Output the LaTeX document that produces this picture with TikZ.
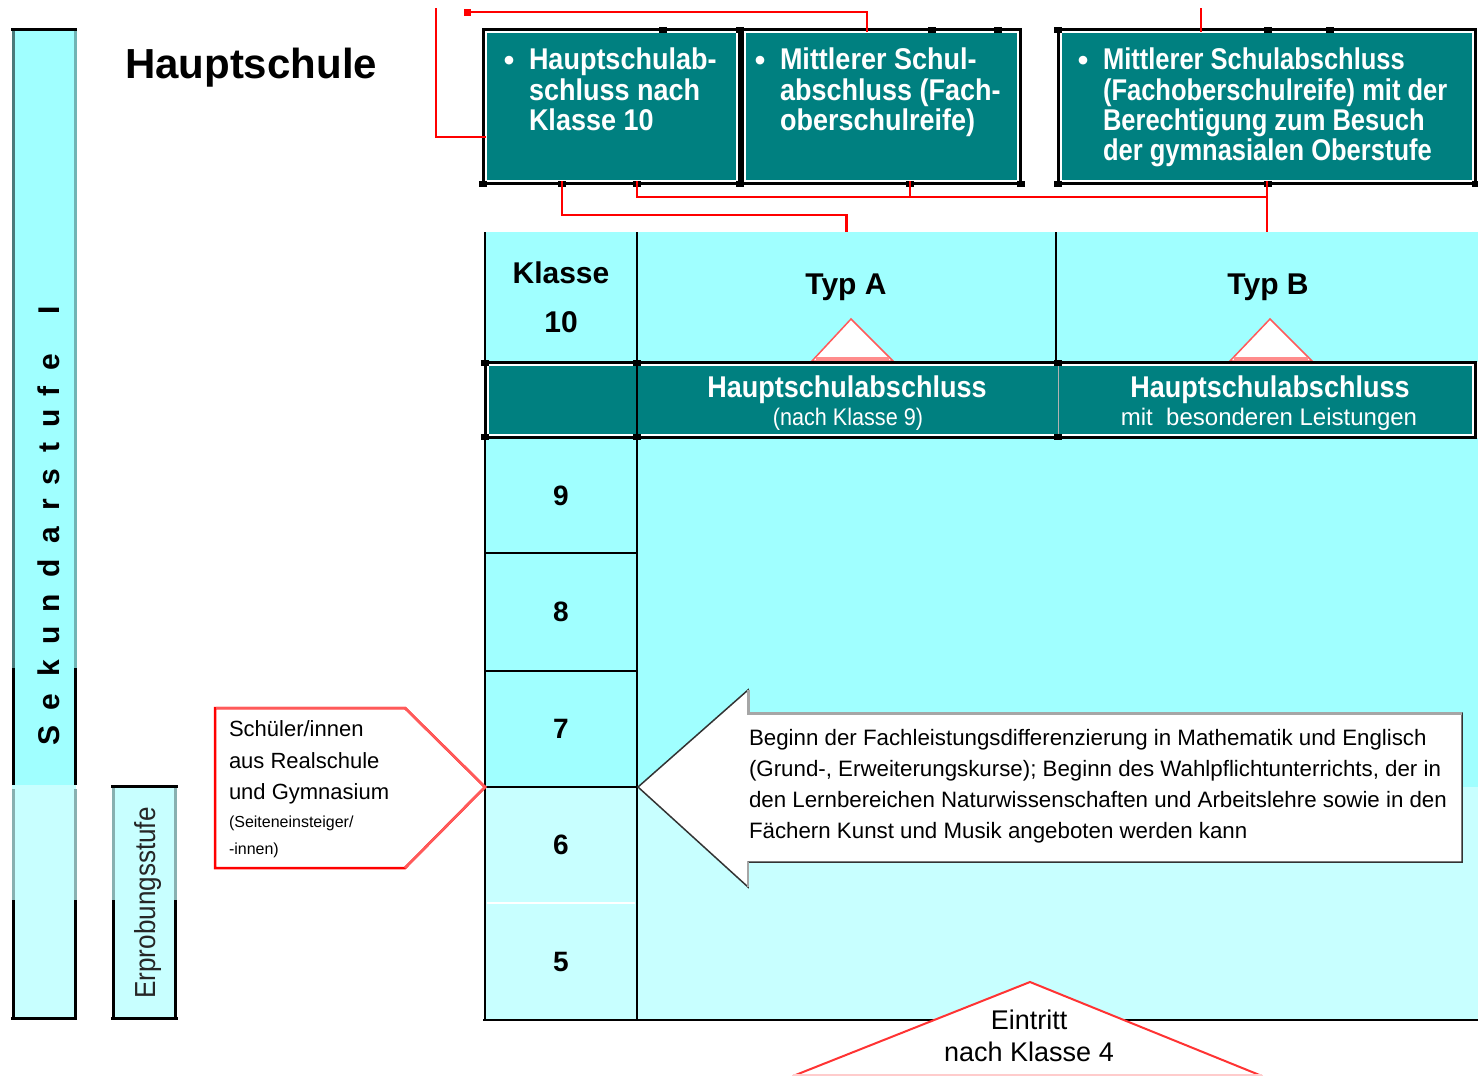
\documentclass[tikz,border=0pt]{standalone}
\usepackage{fontspec}
\setmainfont{Liberation Sans}
\newfontfamily\cnd{Liberation Sans}[FakeStretch=0.9]
\newfontfamily\cndn{Liberation Sans}[FakeStretch=0.85]
\definecolor{cyanA}{HTML}{A0FFFF}
\definecolor{cyanB}{HTML}{C8FFFF}
\definecolor{tealC}{HTML}{008080}
\definecolor{redC}{HTML}{FF0000}
\definecolor{pinkR}{HTML}{FF5A5A}
\definecolor{edgeD}{HTML}{4A7A7A}
\definecolor{edgeL}{HTML}{70B4B4}
\definecolor{edgeG}{HTML}{88B0B0}
\begin{document}
\begin{tikzpicture}[x=1pt,y=-1pt,
  every node/.style={inner sep=0pt, outer sep=0pt},
  cell/.style={rectangle, draw=none, inner sep=0pt},
  tealbox/.style={rectangle, fill=tealC, draw=white, line width=2pt, inner sep=0pt},
  con/.style={draw=redC, line width=2.5pt},
  blk/.style={draw=black, line width=2.5pt},
  boxtxt/.style={text=white, font=\cnd\bfseries\fontsize{30}{30.3}\selectfont, align=left, anchor=north west},
  bul/.style={text=white, font=\bfseries\fontsize{30}{30}\selectfont, anchor=base},
  numtxt/.style={font=\bfseries\fontsize{28}{28}\selectfont},
  bandbig/.style={anchor=base, text=white, font=\cnd\bfseries\fontsize{30}{30}\selectfont},
  tri/.style={fill=white, draw=pinkR, line width=1.5pt}
]
\useasboundingbox (0,0) rectangle (1478,1076);
\fill[white] (0,0) rectangle (1478,1076);

% ---------- left bars ----------
\node[cell, fill=cyanA, minimum width=64pt, minimum height=757pt] (sekA) at (44,406.5) {};
\node[cell, fill=cyanB, minimum width=64pt, minimum height=233pt] (sekB) at (44,901.5) {};
\draw[black, line width=3pt] (11,29.5) -- (77,29.5);
\draw[black, line width=3pt] (11,1018) -- (77,1018);
\draw[edgeD, line width=3pt] (13.5,31) -- (13.5,668);
\draw[black, line width=3pt] (13.5,668) -- (13.5,785);
\draw[edgeG, line width=3pt] (13.5,789) -- (13.5,900);
\draw[black, line width=3pt] (13.5,900) -- (13.5,1019.5);
\draw[edgeL, line width=3pt] (75,31) -- (75,668);
\draw[black, line width=3pt] (75,668) -- (75,785);
\draw[edgeG, line width=3pt] (75,789) -- (75,900);
\draw[black, line width=3pt] (75,900) -- (75,1019.5);
\foreach \ch/\yy in {S/735,e/702,k/668,u/635,n/603,d/568,a/535,r/505,s/477,t/447,u/418,f/392,e/362,I/310}
  \node[rotate=90, anchor=base, font=\bfseries\fontsize{30}{30}\selectfont] (sek\yy) at (59,\yy) {\ch};

\node[cell, fill=cyanB, minimum width=64pt, minimum height=233pt] (erp) at (144,901.5) {};
\draw[black, line width=3pt] (111,786) -- (178,786);
\draw[black, line width=3pt] (111,1018) -- (178,1018);
\draw[edgeG, line width=3pt] (113.5,788) -- (113.5,900);
\draw[black, line width=3pt] (113.5,900) -- (113.5,1019.5);
\draw[edgeG, line width=3pt] (175.5,788) -- (175.5,900);
\draw[black, line width=3pt] (175.5,900) -- (175.5,1019.5);
\node[rotate=90, anchor=base, font=\cnd\fontsize{29}{29}\selectfont, text=black!85] (erpt) at (155,903) {Erprobungsstufe};

% ---------- title ----------
\node[anchor=base west, font=\bfseries\fontsize{42}{42}\selectfont] (title) at (125,78) {Hauptschule};

% ---------- top boxes ----------
\node[tealbox, minimum width=251pt, minimum height=149pt] (b1) at (611.5,106.5) {};
\node[tealbox, minimum width=273pt, minimum height=149pt] (b2) at (881.5,106.5) {};
\node[tealbox, minimum width=412pt, minimum height=149pt] (b3) at (1267,106.5) {};
\foreach \b in {b1,b2,b3}
  \draw[black, line width=3pt] ([shift={(-2.5pt,2.5pt)}]\b.north west) rectangle ([shift={(2.5pt,-2.5pt)}]\b.south east);

\node[bul] (b1d) at (509,70) {•};
\node[boxtxt] (b1t) at (529,48) {Hauptschulab-\\schluss nach\\Klasse 10};
\node[bul] (b2d) at (760,70) {•};
\node[boxtxt] (b2t) at (780,48) {Mittlerer Schul-\\abschluss (Fach-\\oberschulreife)};
\node[bul] (b3d) at (1083,70) {•};
\node[boxtxt, font=\cndn\bfseries\fontsize{30}{30.3}\selectfont] (b3t) at (1103,48) {Mittlerer Schulabschluss\\(Fachoberschulreife) mit der\\Berechtigung zum Besuch\\der gymnasialen Oberstufe};

% ---------- table ----------
\node[cell, fill=cyanA, minimum width=152pt, minimum height=130pt, align=center,
      font=\bfseries\fontsize{30}{49}\selectfont] (k10) at (561,297) {Klasse\\10};
\node[cell, fill=cyanA, minimum width=419pt, minimum height=130pt] (typA) at (846.5,297) {};
\node[cell, fill=cyanA, minimum width=422pt, minimum height=130pt] (typB) at (1267,297) {};
\node[anchor=base, font=\bfseries\fontsize{30}{30}\selectfont] (typAt) at (846,294) {Typ A};
\node[anchor=base, font=\bfseries\fontsize{30}{30}\selectfont] (typBt) at (1268,294) {Typ B};

\node[cell, fill=cyanA, minimum width=841pt, minimum height=349pt] (up) at (1057.5,612.5) {};
\node[cell, fill=cyanB, minimum width=841pt, minimum height=233pt] (lo) at (1057.5,903.5) {};
\node[cell, numtxt, fill=cyanA, minimum width=152pt, minimum height=115pt] (r9) at (561,495.5) {9};
\node[cell, numtxt, fill=cyanA, minimum width=152pt, minimum height=118pt] (r8) at (561,612) {8};
\node[cell, numtxt, fill=cyanA, minimum width=152pt, minimum height=116pt] (r7) at (561,729) {7};
\node[cell, numtxt, fill=cyanB, minimum width=152pt, minimum height=116pt] (r6) at (561,845) {6};
\node[cell, numtxt, fill=cyanB, minimum width=152pt, minimum height=117pt] (r5) at (561,961.5) {5};

% triangles above the band
\filldraw[tri] (812,361) -- (851,319) -- (893,361) -- cycle;
\draw[red!45, line width=4pt] (816,358.5) -- (889,358.5);
\filldraw[tri] (1230,361) -- (1270,319) -- (1312,361) -- cycle;
\draw[red!45, line width=4pt] (1234,358.5) -- (1308,358.5);

% band
\node[tealbox, minimum width=985pt, minimum height=70pt] (band) at (980.5,400) {};
\draw[black, line width=3pt] ([shift={(-2.5pt,2.5pt)}]band.north west) rectangle ([shift={(2.5pt,-2.5pt)}]band.south east);
\draw[gray!60, line width=1pt] (1058,366) -- (1058,434);
\node[bandbig] (hsA) at (847,397) {Hauptschulabschluss};
\node[anchor=base, text=white, font=\cnd\fontsize{24}{24}\selectfont] (hsAs) at (848,425) {(nach Klasse 9)};
\node[bandbig] (hsB) at (1270,397) {Hauptschulabschluss};
\node[anchor=base, text=white, font=\fontsize{24}{24}\selectfont] (hsBs) at (1269,425) {mit\ \ besonderen Leistungen};

% table lines
\draw[blk] (k10.north west) -- (r5.south west);
\draw[blk] (k10.north east) -- (r5.south east);
\draw[blk] (typA.north east) -- (typA.south east);
\draw[blk] (r9.south west) -- (r9.south east);
\draw[blk] (r8.south west) -- (r8.south east);
\draw[blk] (r7.south west) -- (r7.south east);
\draw[white, line width=1.5pt] ([xshift=2pt]r6.south west) -- ([xshift=-2pt]r6.south east);
\draw[blk] ([xshift=-2pt]r5.south west) -- (lo.south east);

% glue markers
\foreach \p in {(663,29.5),(740,29.5),(932,29.5),(998,29.5),(1058,29.5),(1268,29.5),(1330,29.5),
                (483,184),(562,184),(637,184),(740,184),(910,184),(1021,184),(1058,184),(1268,184),(1476,184),
                (485,363),(637,363),(1058,363),(485,437),(637,437),(1058,437)}
  \fill[black] \p ++(-4,-3) rectangle ++(8,6);

% ---------- entry pentagon ----------
\filldraw[fill=white, draw=redC, line width=2.5pt] (215,708) -- (405,708) -- (485,787) -- (405,868) -- (215,868) -- cycle;
\draw[pinkR, line width=2.5pt] (216,708) -- (405,708) -- (485,787) -- (405,868);
\node[anchor=north west, align=left, font=\fontsize{22}{31.5}\selectfont] (p1) at (229,721) {Schüler/innen\\aus Realschule\\und Gymnasium};
\node[anchor=north west, align=left, font=\fontsize{16}{27}\selectfont] (p2) at (229,816.3) {(Seiteneinsteiger/\\-innen)};

% ---------- big arrow ----------
\filldraw[fill=white, draw=black!80, line width=1.5pt] (638,787) -- (748,690) -- (748,713) -- (1462,713) -- (1462,862) -- (748,862) -- (748,887) -- cycle;
\draw[gray!70, line width=3pt] (748,690) -- (748,713.5) -- (1462,713.5);
\draw[gray!70, line width=2pt] (748,862) -- (748,887);
\node[anchor=north west, align=left, font=\fontsize{22.3}{31}\selectfont] (atxt) at (749,729.7)
  {Beginn der Fachleistungsdifferenzierung in Mathematik und Englisch\\(Grund-, Erweiterungskurse); Beginn des Wahlpflichtunterrichts, der in\\den Lernbereichen Naturwissenschaften und Arbeitslehre sowie in den\\Fächern Kunst und Musik angeboten werden kann};

% ---------- Eintritt ----------
\fill[white] (793,1076) -- (1030,982) -- (1262,1076) -- cycle;
\draw[redC!80, line width=2pt] (793,1076) -- (1030,982) -- (1262,1076);
\draw[red!20, line width=2pt] (793,1075) -- (1262,1075);
\node[anchor=north, align=center, font=\fontsize{27}{32}\selectfont] (ein) at (1029,1010.3) {Eintritt\\nach Klasse 4};

% ---------- red connectors ----------
\coordinate (fA) at (436,8);
\coordinate (fB) at (467,12);
\coordinate (fE) at (1201,8);
\draw[con] ([yshift=-30.5pt]b1.west) -| (fA);
\draw[con] (fB) -| ([xshift=-14.5pt]b2.north);
\fill[redC] (464,8.5) rectangle (471,15.5);
\draw[con] ([xshift=-49.5pt]b1.south) |- ([yshift=17pt]typA.north) -- (typA.north);
\draw[con] ([xshift=25.5pt]b1.south) |- ([yshift=-16pt]b3.south);
\draw[con] ([xshift=28.5pt]b2.south) -- ([xshift=28.5pt,yshift=-16pt]b2.south);
\draw[con] (b3.south) -- (typB.north);
\draw[con] (fE) -- (fE |- b3.north);
\end{tikzpicture}
\end{document}
